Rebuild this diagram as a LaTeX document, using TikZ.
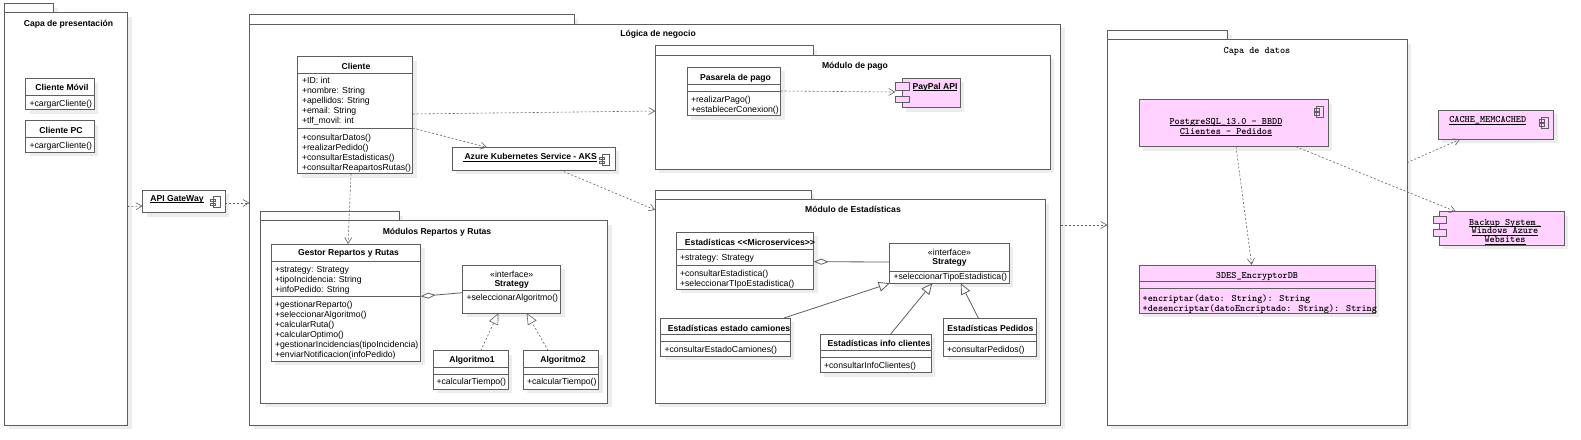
\documentclass[tikz,border=0pt]{standalone}
\usepackage{fontspec}
\setmainfont{Liberation Sans}
\usetikzlibrary{arrows.meta,fit,shadows}
\definecolor{umlpink}{HTML}{FFD2FF}
\definecolor{umlline}{HTML}{5E5E5E}
\newcommand{\compart}[2]{\draw[umlline, line width=0.9pt] (#1.west |- 0,#2) -- (#1.east |- 0,#2);}
\newcommand{\ul}[1]{\underline{\raisebox{0pt}[\height][0pt]{#1}}}

\tikzset{
  umlbox/.style={draw=umlline, line width=1pt, fill=white, inner sep=0pt, outer sep=0pt,
    drop shadow={shadow xshift=4pt, shadow yshift=-4pt, fill=black!7, opacity=1}},
  pinkbox/.style={umlbox, fill=umlpink},
  plaintab/.style={draw=umlline, line width=0.9pt, fill=umlpink, inner sep=0pt, outer sep=0pt},
  txt/.style={inner sep=0pt, outer sep=0pt, font=\fontsize{8.7}{10}\selectfont, align=left},
  title/.style={txt, font=\fontsize{8.6}{10}\selectfont\bfseries, align=center},
  mono/.style={inner sep=0pt, outer sep=0pt, font=\fontsize{9.77}{10}\selectfont\ttfamily\bfseries, align=left},
  monoc/.style={mono, align=center},
  dep/.style={umlline, line width=0.6pt, dash pattern=on 2pt off 2pt, -{Straight Barb[length=6pt,width=7pt]}},
  realiz/.style={umlline, line width=0.6pt, dash pattern=on 2pt off 2pt, -{Triangle[fill=white,length=11pt,width=10pt]}},
  gener/.style={umlline, line width=0.8pt, -{Triangle[fill=white,length=11pt,width=10pt]}},
  aggr/.style={umlline, line width=0.8pt, {Diamond[fill=white,length=15pt,width=6pt]}-},
  compicon/.pic={
    \draw[umlline, line width=0.6pt] (-2.5,-5.5) rectangle (4.5,5.5);
    \draw[umlline, line width=0.6pt] (-5,-3) rectangle (0,-0.5);
    \draw[umlline, line width=0.6pt] (-5,1) rectangle (0,3.5);
  }
}

\begin{document}
\begin{tikzpicture}[x=1pt, y=-1pt]
  \useasboundingbox (0,0) rectangle (1581,439);

  % Capa de presentacion
  \node[umlbox, fit={(4.5,3.5) (53.5,12.5)}] (presTab) {};
  \node[umlbox, fit={(4.5,12.5) (127.5,425)}] (pres) {};
  \node[title] (presTitle) at (68.5,24) {Capa de presentación};
  \node[umlbox, fit={(25.5,78.5) (94,109.5)}] (movil) {};
  \compart{movil}{95}
  \node[title] (movilTitle) at (62,87.5) {Cliente Móvil};
  \node[txt, anchor=west] (movilOps) at (29.5,104) {+cargarCliente()};
  \node[umlbox, fit={(25.5,120.5) (94,152)}] (pc) {};
  \compart{pc}{137}
  \node[title] (pcTitle) at (61,130.5) {Cliente PC};
  \node[txt, anchor=west] (pcOps) at (29.5,146) {+cargarCliente()};

  % API gateway
  \node[umlbox, fit={(142.5,190) (225,212.5)}] (gateway) {};
  \node[title] (gatewayText) at (177,199) {\ul{API GateWay}};
  \pic at (215.5,202) {compicon};

  % Logica de negocio
  \node[umlbox, fit={(249.5,14.5) (574,24)}] (logicaTab) {};
  \node[umlbox, fit={(249.5,24) (1060.7,425)}] (logica) {};
  \node[title] (logicaTitle) at (658,34.5) {Lógica de negocio};

  % Cliente
  \node[umlbox, fit={(297.7,56.7) (412.7,173.7)}] (cliente) {};
  \compart{cliente}{73.3}
  \compart{cliente}{128.3}
  \node[title] (clienteTitle) at (356,66.7) {Cliente};
  \node[txt, anchor=west] (clienteAttrs) at (302,101.7)
    {+ID: int\\+nombre: String\\+apellidos: String\\+email: String\\+tlf\_movil: int};
  \node[txt, anchor=west] (clienteOps) at (302,153.3)
    {+consultarDatos()\\+realizarPedido()\\+consultarEstadisticas()\\+consultarReapartosRutas()};

  % AKS
  \node[umlbox, fit={(452.3,147.3) (615,170)}] (aks) {};
  \node[title] (aksText) at (530,157.7) {\ul{\,Azure Kubernetes Service - AKS}};
  \pic at (604.5,160) {compicon};

  % Modulos Repartos y Rutas
  \node[umlbox, fit={(260.7,211.7) (399,220.7)}] (repartosTab) {};
  \node[umlbox, fit={(260.7,220.7) (607.7,403.3)}] (repartos) {};
  \node[title] (repartosTitle) at (437,232.5) {Módulos Repartos y Rutas};
  \node[umlbox, fit={(271,244) (420.7,361)}] (gestor) {};
  \compart{gestor}{261}
  \compart{gestor}{296.3}
  \node[title] (gestorTitle) at (348.5,253.3) {Gestor Repartos y Rutas};
  \node[txt, anchor=west] (gestorAttrs) at (275,280)
    {+strategy: Strategy\\+tipoIncidencia: String\\+infoPedido: String};
  \node[txt, anchor=west] (gestorOps) at (275,330)
    {+gestionarReparto()\\+seleccionarAlgoritmo()\\+calcularRuta()\\+calcularOptimo()\\+gestionarIncidencias(tipoIncidencia)\\+enviarNotificacion(infoPedido)};
  \node[umlbox, fit={(462.7,265) (560.7,313.3)}] (strategyA) {};
  \compart{strategyA}{290}
  \node[txt, align=center] (strategyAStereo) at (511.7,274) {«interface»};
  \node[title] (strategyATitle) at (511.7,284) {Strategy};
  \node[txt, anchor=west] (strategyAOps) at (466.5,298.7) {+seleccionarAlgoritmo()};
  \node[umlbox, fit={(433,350.7) (508.3,389)}] (algo1) {};
  \compart{algo1}{367.7}
  \compart{algo1}{374.3}
  \node[title] (algo1Title) at (472,360) {Algoritmo1};
  \node[txt, anchor=west] (algo1Ops) at (436.5,382.7) {+calcularTiempo()};
  \node[umlbox, fit={(523.3,350.7) (598.7,389)}] (algo2) {};
  \compart{algo2}{367.7}
  \compart{algo2}{374.3}
  \node[title] (algo2Title) at (563,360) {Algoritmo2};
  \node[txt, anchor=west] (algo2Ops) at (527,382.7) {+calcularTiempo()};

  % Modulo de pago
  \node[umlbox, fit={(655.3,45.7) (813.3,55.3)}] (pagoTab) {};
  \node[umlbox, fit={(655.3,55.3) (1050,169)}] (pago) {};
  \node[title] (pagoTitle) at (855,66) {Módulo de pago};
  \node[umlbox, fit={(687.3,67.3) (780.7,115.7)}] (pasarela) {};
  \compart{pasarela}{84.3}
  \compart{pasarela}{91}
  \node[title] (pasarelaTitle) at (735.5,78) {Pasarela de pago};
  \node[txt, anchor=west] (pasarelaOps) at (691,105)
    {+realizarPago()\\+establecerConexion()};
  \node[pinkbox, fit={(902,78) (960,107.7)}] (paypal) {};
  \node[plaintab, fit={(895.3,82.3) (909,90)}] (paypalTabA) {};
  \node[plaintab, fit={(895.3,96.3) (909,102.7)}] (paypalTabB) {};
  \node[title] (paypalText) at (935,87) {\ul{PayPal API}};

  % Modulo de Estadisticas
  \node[umlbox, fit={(655.3,190) (811.3,199.7)}] (estadTab) {};
  \node[umlbox, fit={(655.3,199.7) (1045,403.3)}] (estad) {};
  \node[title] (estadTitle) at (853,209.3) {Módulo de Estadísticas};
  \node[umlbox, fit={(676.7,232.3) (813.7,289.3)}] (estadMicro) {};
  \compart{estadMicro}{249.7}
  \compart{estadMicro}{265}
  \node[title] (estadMicroTitle) at (750,242.3) {Estadísticas <{}<Microservices>{}>};
  \node[txt, anchor=west] (estadMicroAttrs) at (680,258.3) {+strategy: Strategy};
  \node[txt, anchor=west] (estadMicroOps) at (680,279)
    {+consultarEstadistica()\\+seleccionarTIpoEstadistica()};
  \node[umlbox, fit={(889.7,243.3) (1009.3,283.3)}] (strategyE) {};
  \compart{strategyE}{271}
  \node[txt, align=center] (strategyEStereo) at (949.5,252.7) {«interface»};
  \node[title] (strategyETitle) at (949.5,262.3) {Strategy};
  \node[txt, anchor=west] (strategyEOps) at (893.5,277.7) {+seleccionarTipoEstadistica()};
  \node[umlbox, fit={(660.7,318) (790,356)}] (camiones) {};
  \compart{camiones}{334.3}
  \compart{camiones}{341.3}
  \node[title] (camionesTitle) at (729,328.3) {Estadísticas estado camiones};
  \node[txt, anchor=west] (camionesOps) at (664.5,350) {+consultarEstadoCamiones()};
  \node[umlbox, fit={(820.3,334) (931,372.7)}] (info) {};
  \compart{info}{350.7}
  \compart{info}{357.3}
  \node[title] (infoTitle) at (879,343.7) {Estadísticas info clientes};
  \node[txt, anchor=west] (infoOps) at (824,366) {+consultarInfoClientes()};
  \node[umlbox, fit={(943.7,318) (1036.3,356)}] (pedidos) {};
  \compart{pedidos}{334.3}
  \compart{pedidos}{341.3}
  \node[title] (pedidosTitle) at (990.5,328.3) {Estadísticas Pedidos};
  \node[txt, anchor=west] (pedidosOps) at (947,350) {+consultarPedidos()};

  % Capa de datos
  \node[umlbox, fit={(1107.3,30.3) (1227.7,39.7)}] (datosTab) {};
  \node[umlbox, fit={(1107.3,39.7) (1407,425)}] (datos) {};
  \node[monoc] (datosTitle) at (1257,51.5) {Capa de datos};
  \node[pinkbox, fit={(1139,99.7) (1328.3,146.7)}] (postgres) {};
  \node[monoc] (postgresText) at (1226,127)
    {\ul{PostgreSQL\_13.0 - BBDD}\\\ul{Clientes - Pedidos}};
  \pic at (1319,111.7) {compicon};
  \node[pinkbox, fit={(1139,265) (1375.3,313.3)}] (des) {};
  \compart{des}{281.7}
  \compart{des}{288.3}
  \node[monoc] (desTitle) at (1257,276.5) {3DES\_EncryptorDB};
  \node[mono, anchor=west] (desOps) at (1142.7,303.8)
    {+encriptar(dato: String): String\\+desencriptar(datoEncriptado: String): String};

  % Cache y backup
  \node[pinkbox, fit={(1438,110) (1553.7,139.3)}] (cache) {};
  \node[monoc] (cacheText) at (1487.7,120.5) {\ul{CACHE\_MEMCACHED}};
  \pic at (1544,122.3) {compicon};
  \node[pinkbox, fit={(1439.3,211.7) (1564.3,245)}] (backup) {};
  \node[plaintab, fit={(1433.3,216.3) (1446.7,223.3)}] (backupTabA) {};
  \node[plaintab, fit={(1433.3,229.7) (1446.7,236.7)}] (backupTabB) {};
  \node[monoc, font=\fontsize{9.77}{8.7}\selectfont\ttfamily\bfseries] (backupText) at (1505,231.7)
    {\ul{Backup System\_}\\\ul{Windows Azure}\\\ul{Websites}};

  % Conectores
  \draw[dep] (pres.east |- 0,206.5) -- (gateway.west |- 0,206);
  \draw[dep] (gateway.east |- 0,203) -- (logica.west |- 0,203);
  \draw[dep] (cliente.east |- 0,114) -- (pago.west |- 0,111);
  \draw[dep] (cliente.east |- 0,128) -- (487,0 |- aks.north);
  \draw[dep] (560,0 |- aks.south) -- (estad.west |- 0,210);
  \draw[dep] (351,0 |- cliente.south) -- (348,0 |- gestor.north);
  \draw[dep] (pasarela.east |- 0,91) -- (paypalTabA.west |- 0,92);
  \draw[dep] (logica.east |- 0,225) -- (datos.west |- 0,225);
  \draw[dep] (1236,0 |- postgres.south) -- (1251.7,0 |- des.north);
  \draw[dep] (1296,0 |- postgres.south) -- (1456,0 |- backup.north);
  \draw[dep] (datos.east |- 0,162.7) -- (1460,0 |- cache.south);
  \draw[aggr] (gestor.east |- 0,296.3) -- (strategyA.west |- 0,292.7);
  \draw[realiz] (480.7,0 |- algo1.north) -- (498.3,0 |- strategyA.south);
  \draw[realiz] (548.3,0 |- algo2.north) -- (526.7,0 |- strategyA.south);
  \draw[aggr] (estadMicro.east |- 0,261.7) -- (strategyE.west |- 0,262);
  \draw[gener] (784,0 |- camiones.north) -- (strategyE.west |- 0,283.3);
  \draw[gener] (890.7,0 |- info.north) -- (932.3,0 |- strategyE.south);
  \draw[gener] (978.3,0 |- pedidos.north) -- (960.7,0 |- strategyE.south);
\end{tikzpicture}
\end{document}
